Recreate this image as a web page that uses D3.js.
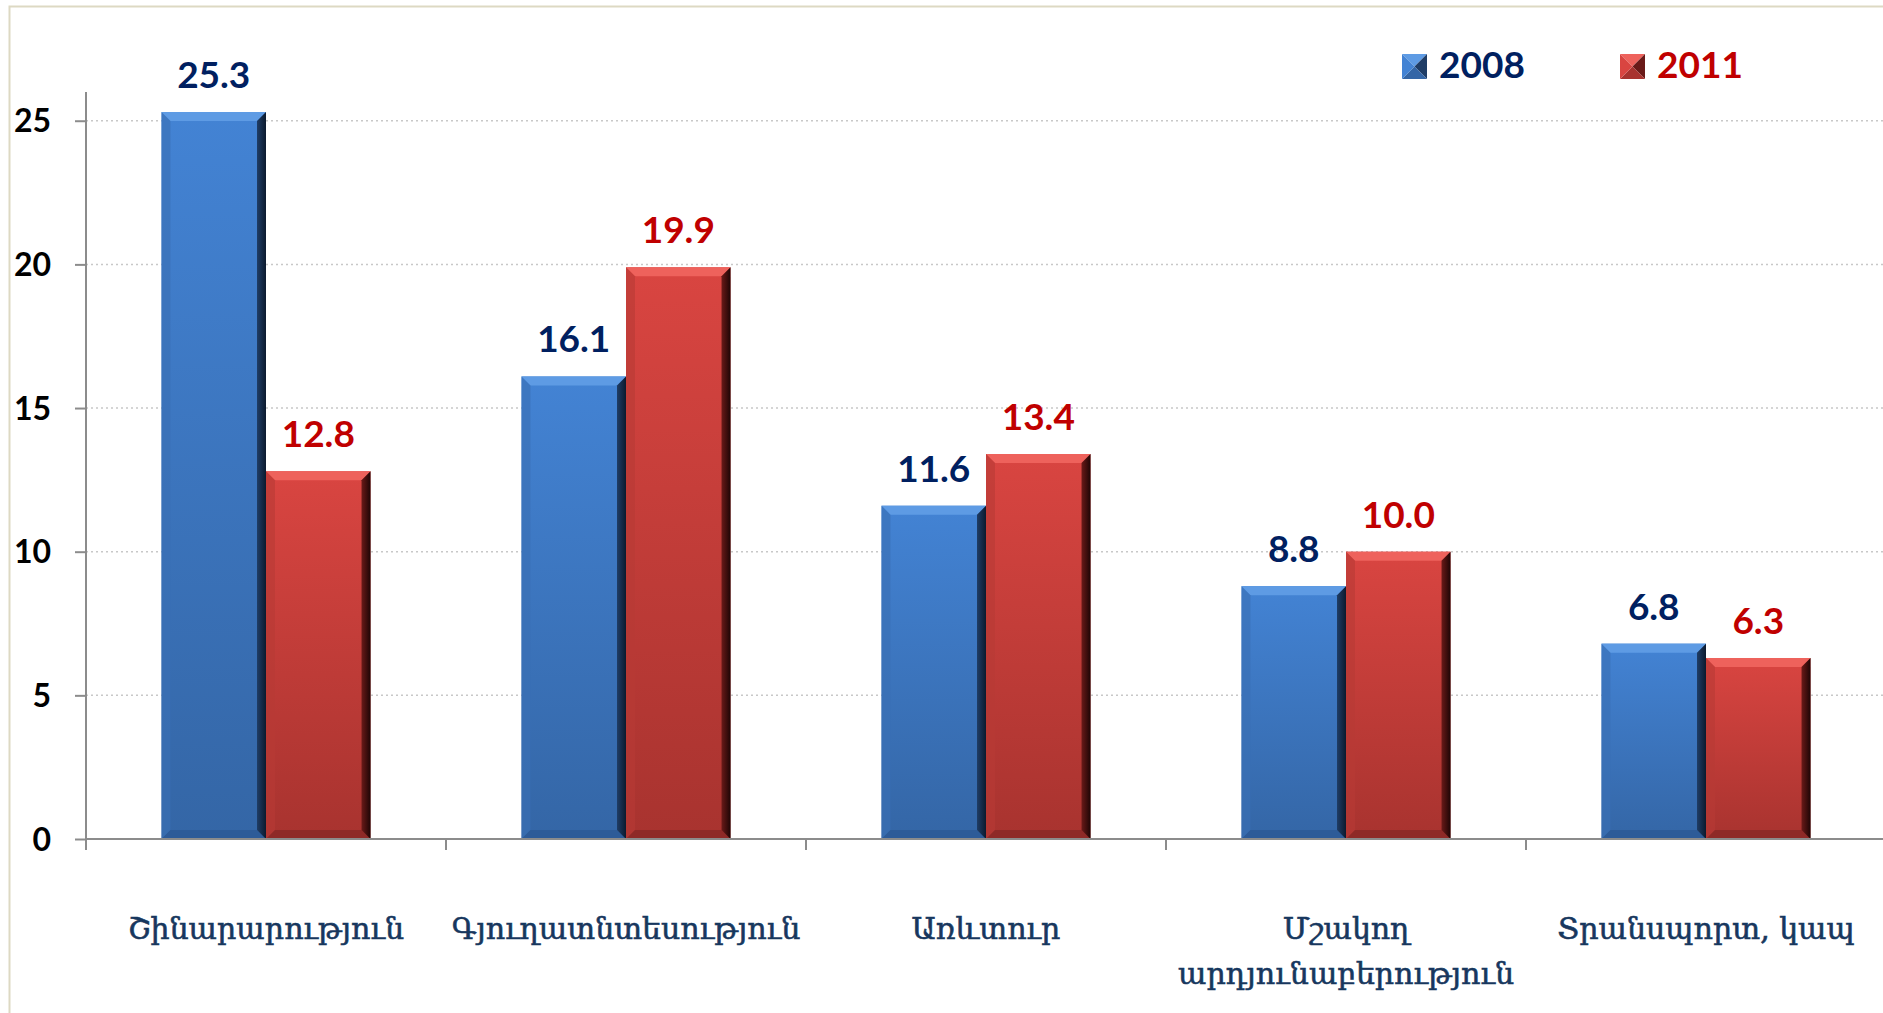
<!DOCTYPE html>
<html>
<head>
<meta charset="utf-8">
<script src="https://cdn.jsdelivr.net/npm/d3@7"></script>
<style>
  html, body { margin: 0; padding: 0; background: #fff; }
  svg { display: block; }
</style>
</head>
<body>
<svg id="chart"></svg>
<script>
const categories = [
  ["Շինարարություն"],
  ["Գյուղատնտեսություն"],
  ["Առևտուր"],
  ["Մշակող", "արդյունաբերություն"],
  ["Տրանսպորտ, կապ"]
];
const years = ["2008", "2011"];
const values2008 = [25.3, 16.1, 11.6, 8.8, 6.8];
const values2011 = [12.8, 19.9, 13.4, 10.0, 6.3];
const yTicks = [0, 5, 10, 15, 20, 25];

const W = 1883, H = 1013;
const svg = d3.select("#chart").attr("width", W).attr("height", H);

const plotLeft = 86, plotRight = 1886, plotTop = 92, plotBottom = 839;

const x = d3.scaleBand().domain(d3.range(categories.length)).range([plotLeft, plotRight]).paddingInner(0).paddingOuter(0);
const xs = d3.scaleBand().domain(years).range([0, x.bandwidth()]).paddingInner(0).paddingOuter(0.722);
const y = d3.scaleLinear().domain([0, 26]).range([plotBottom, plotTop]);

const styles = {
  "2008": { top: "#4383d4", bot: "#3466a6", hi: "#5e9be4", lo: "#2d5b98", left: "#3a70b4", side: "#1f3d66", edge: "#0c1a2e", lab: "#002060" },
  "2011": { top: "#d94541", bot: "#a8332f", hi: "#ee625c", lo: "#8e2a27", left: "#b83a36", side: "#6a1a18", edge: "#1e0505", lab: "#c00000" }
};

const defs = svg.append("defs");
years.forEach(k => {
  const s = styles[k];
  const g = defs.append("linearGradient").attr("id", "face" + k).attr("x1", 0).attr("y1", 0).attr("x2", 0).attr("y2", 1);
  g.append("stop").attr("offset", "0%").attr("stop-color", s.top);
  g.append("stop").attr("offset", "100%").attr("stop-color", s.bot);
  const r = defs.append("linearGradient").attr("id", "side" + k).attr("x1", 0).attr("y1", 0).attr("x2", 1).attr("y2", 0);
  r.append("stop").attr("offset", "0%").attr("stop-color", s.side);
  r.append("stop").attr("offset", "100%").attr("stop-color", s.edge);
});

// frame
svg.append("path").attr("d", `M9.5,${H} V6.5 H${W}`).attr("fill", "none").attr("stroke", "#ddd9c3").attr("stroke-width", 2);

// gridlines
svg.append("g").selectAll("line").data(yTicks.filter(d => d > 0)).join("line")
  .attr("x1", plotLeft).attr("x2", W).attr("y1", d => y(d)).attr("y2", d => y(d))
  .attr("stroke", "#c8c8c8").attr("stroke-width", 1.5).attr("stroke-dasharray", "2,3");

// y axis
const yAxis = svg.append("g").attr("transform", `translate(${plotLeft},0)`)
  .call(d3.axisLeft(y).tickValues(yTicks).tickSize(11).tickPadding(24).tickFormat(d3.format("d")));
yAxis.select(".domain").attr("stroke", "#8c8c8c").attr("stroke-width", 2).attr("d", `M0,${plotTop}V${plotBottom}`);
yAxis.selectAll(".tick line").attr("stroke", "#8c8c8c").attr("stroke-width", 2);
yAxis.selectAll(".tick text").attr("fill", "#000").attr("font-family", "Lato, 'Open Sans', sans-serif")
  .attr("font-weight", "bold").attr("font-size", 32).attr("dy", "0.35em");

// bars
const bev = 9;
function drawBar(g, x0, w, y0, y1, k) {
  const h = y1 - y0;
  const bb = Math.min(bev, h / 2);
  g.append("rect").attr("x", x0).attr("y", y0).attr("width", w).attr("height", h).attr("fill", `url(#face${k})`);
  const s = styles[k];
  g.append("polygon").attr("points", [[x0, y0], [x0 + w, y0], [x0 + w - bb, y0 + bb], [x0 + bb, y0 + bb]].join(" ")).attr("fill", s.hi);
  g.append("polygon").attr("points", [[x0, y0], [x0 + bb, y0 + bb], [x0 + bb, y1 - bb], [x0, y1]].join(" ")).attr("fill", s.left).attr("opacity", 0.6);
  g.append("polygon").attr("points", [[x0, y1], [x0 + bb, y1 - bb], [x0 + w - bb, y1 - bb], [x0 + w, y1]].join(" ")).attr("fill", s.lo);
  g.append("polygon").attr("points", [[x0 + w, y0], [x0 + w, y1], [x0 + w - bb, y1 - bb], [x0 + w - bb, y0 + bb]].join(" ")).attr("fill", `url(#side${k})`);
}

const series = { "2008": values2008, "2011": values2011 };
const barsG = svg.append("g");
years.forEach(k => {
  series[k].forEach((v, i) => {
    const x0 = x(i) + xs(k);
    drawBar(barsG, x0, xs.bandwidth(), y(v), y(0), k);
    barsG.append("text").attr("x", x0 + xs.bandwidth() / 2).attr("y", y(v) - 24)
      .attr("text-anchor", "middle").attr("fill", styles[k].lab)
      .attr("font-family", "Lato, 'Open Sans', sans-serif").attr("font-weight", "bold").attr("font-size", 37)
      .text(d3.format(".1f")(v));
  });
});

// x axis
const xAxis = svg.append("g").attr("transform", `translate(0,${plotBottom})`);
xAxis.append("line").attr("x1", plotLeft).attr("x2", W).attr("stroke", "#8c8c8c").attr("stroke-width", 2);
xAxis.selectAll(".xt").data(d3.range(categories.length)).join("line").attr("class", "xt")
  .attr("x1", d => x(d)).attr("x2", d => x(d)).attr("y1", 0).attr("y2", 11)
  .attr("stroke", "#8c8c8c").attr("stroke-width", 2);

const labG = svg.append("g");
categories.forEach((lines, i) => {
  const t = labG.append("text").attr("x", x(i) + x.bandwidth() / 2).attr("y", 939)
    .attr("text-anchor", "middle").attr("fill", "#17375e")
    .attr("stroke", "#17375e").attr("stroke-width", 0.6)
    .attr("font-family", "'DejaVu Serif', serif").attr("font-size", 30);
  lines.forEach((l, j) => t.append("tspan").attr("x", x(i) + x.bandwidth() / 2).attr("dy", j ? 45 : 0).text(l));
});

// legend
const legend = svg.append("g");
const legX = [1402, 1620];
years.forEach((k, i) => {
  const s = styles[k];
  const x0 = legX[i], y0 = 54, sz = 25, c = sz / 2;
  const gl = legend.append("g");
  gl.append("polygon").attr("points", [[x0, y0], [x0 + sz, y0], [x0 + c, y0 + c]].join(" ")).attr("fill", s.hi);
  gl.append("polygon").attr("points", [[x0 + sz, y0], [x0 + sz, y0 + sz], [x0 + c, y0 + c]].join(" ")).attr("fill", s.side);
  gl.append("polygon").attr("points", [[x0, y0 + sz], [x0 + sz, y0 + sz], [x0 + c, y0 + c]].join(" ")).attr("fill", s.bot);
  gl.append("polygon").attr("points", [[x0, y0], [x0, y0 + sz], [x0 + c, y0 + c]].join(" ")).attr("fill", s.top);
  legend.append("text").attr("x", x0 + 37).attr("y", 78).attr("fill", s.lab)
    .attr("font-family", "Lato, 'Open Sans', sans-serif").attr("font-weight", "bold").attr("font-size", 37)
    .text(k);
});
</script>
</body>
</html>
